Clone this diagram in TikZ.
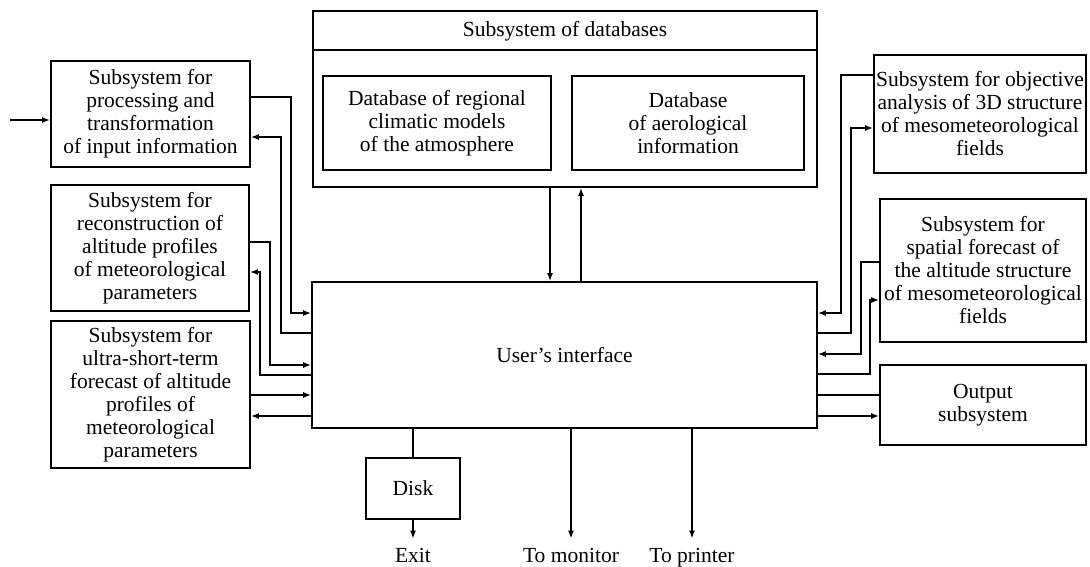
\documentclass[tikz,border=0pt]{standalone}
\usepackage{fontspec}
\setmainfont{Liberation Serif}
\usetikzlibrary{arrows.meta}
\begin{document}
\begin{tikzpicture}[x=1pt,y=-1pt,
  box/.style={draw, line width=1.6pt, inner sep=0pt, align=center, font=\fontsize{21.5}{23}\selectfont},
  conn/.style={line width=1.6pt},
  arr/.style={conn, -{Latex[length=8pt,width=6pt]}},
  lbl/.style={inner xsep=0pt, inner ysep=9pt, anchor=base, font=\fontsize{21.5}{23}\selectfont}]
\useasboundingbox (0,0) rectangle (1090,566);

% left boxes
\node[box, minimum width=199pt, minimum height=106pt] (b1) at (150.5,114)
  {Subsystem for\\processing and\\transformation\\of input information};
\node[box, minimum width=198pt, minimum height=126pt] (b2) at (150,248)
  {Subsystem for\\reconstruction of\\altitude profiles\\of meteorological\\parameters};
\node[box, minimum width=199pt, minimum height=147pt] (b3) at (150.5,394.5)
  {Subsystem for\\ultra-short-term\\forecast of altitude\\profiles of\\meteorological\\parameters};

% databases
\node[box, minimum width=504pt, minimum height=176pt] (db) at (565,99) {};
\node[font=\fontsize{21.5}{23}\selectfont, inner sep=0pt] (dbt) at (565,31) {Subsystem of databases};
\draw[conn] (db.west |- 0,50) -- (db.east |- 0,50);
\node[box, minimum width=228pt, minimum height=94pt] (d1) at (437,123)
  {Database of regional\\climatic models\\of the atmosphere};
\node[box, minimum width=232pt, minimum height=94pt] (d2) at (688,123)
  {Database\\of aerological\\information};

% interface
\node[box, minimum width=505pt, minimum height=146pt] (ui) at (564.5,355) {User's interface};

% right boxes
\node[box, minimum width=212pt, minimum height=118pt] (r1) at (980,114)
  {Subsystem for objective\\analysis of 3D structure\\of mesometeorological\\fields};
\node[box, minimum width=206pt, minimum height=143pt] (r2) at (983,270.5)
  {Subsystem for\\spatial forecast of\\the altitude structure\\of mesometeorological\\fields};
\node[box, minimum width=206pt, minimum height=80pt] (r3) at (983,405)
  {Output\\subsystem};

% disk
\node[box, minimum width=94pt, minimum height=61pt] (disk) at (413,488.5) {Disk};

% labels
\node[lbl] (exit) at (413,562) {Exit};
\node[lbl] (mon) at (571,562) {To monitor};
\node[lbl] (prn) at (692,562) {To printer};

% input
\coordinate (in) at (10,120);
\draw[arr] (in) -- (b1.west |- in);

% left connectors
\draw[arr] (b1.east |- 0,97) -- (291,97) -- (291,313) -- (ui.west |- 0,313);
\draw[arr] (ui.west |- 0,333) -- (281,333) -- (281,137) -- (b1.east |- 0,137);
\draw[arr] (b2.east |- 0,242) -- (270,242) -- (270,365) -- (ui.west |- 0,365);
\draw[arr] (ui.west |- 0,375) -- (260,375) -- (260,272) -- (b2.east |- 0,272);
\draw[arr] (b3.east |- 0,395) -- (ui.west |- 0,395);
\draw[arr] (ui.west |- 0,416) -- (b3.east |- 0,416);

% database connectors
\draw[arr] (db.south -| 550,0) -- (ui.north -| 550,0);
\draw[arr] (ui.north -| 581,0) -- (db.south -| 581,0);

% right connectors
\draw[arr] (r1.west |- 0,75) -- (841,75) -- (841,313) -- (ui.east |- 0,313);
\draw[arr] (ui.east |- 0,333) -- (851,333) -- (851,128) -- (r1.west |- 0,128);
\draw[arr] (r2.west |- 0,262) -- (861,262) -- (861,354) -- (ui.east |- 0,354);
\draw[arr] (ui.east |- 0,374) -- (870,374) -- (870,300) -- (r2.west |- 0,300);
\draw[conn] (ui.east |- 0,395) -- (r3.west |- 0,395);
\draw[arr] (ui.east |- 0,416) -- (r3.west |- 0,416);

% bottom connectors
\draw[conn] (ui.south -| disk.north) -- (disk.north);
\draw[arr] (disk.south) -- (exit.north);
\draw[arr] (ui.south -| mon.north) -- (mon.north);
\draw[arr] (ui.south -| prn.north) -- (prn.north);
\end{tikzpicture}
\end{document}
